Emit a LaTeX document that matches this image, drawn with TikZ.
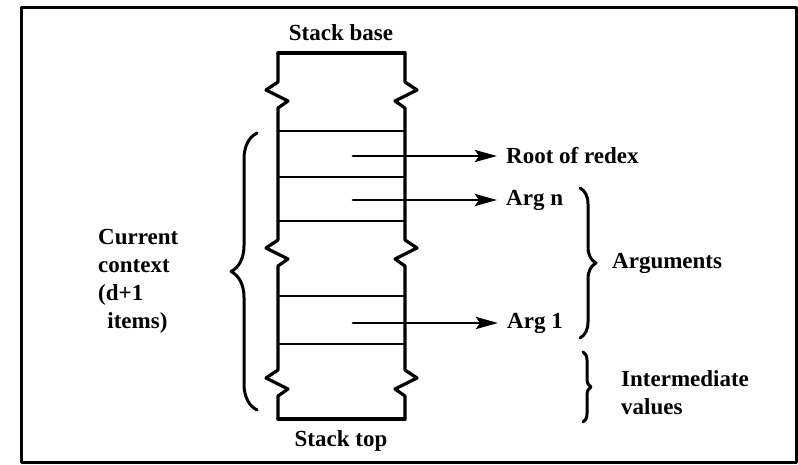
\documentclass[tikz,border=0pt]{standalone}
\usepackage{fontspec}
\setmainfont{Liberation Serif}
\usetikzlibrary{arrows.meta, decorations.pathreplacing}

\begin{document}
\begin{tikzpicture}[
  x=1pt, y=-1pt, line cap=round, line join=round,
  wall/.style={black, line width=3.2pt},
  slot/.style={black, line width=2.4pt},
  ptr/.style={black, line width=2.8pt, shorten >=9pt,
              -{Stealth[length=22pt, width=12pt, inset=4pt]}},
  brc/.style={black, line width=3pt, decorate, decoration={brace, amplitude=#1}},
  lbl/.style={font=\bfseries\fontsize{23}{28}\selectfont, text=black, align=left, inner sep=0pt},
]

\useasboundingbox (0,0) rectangle (798,465);
\draw[line width=3pt] (21,8) rectangle (796,462);

% Stack
\draw[wall] (278,53) -- (405,53);
\draw[wall] (278,419) -- (405,419);
\foreach \wx/\s in {278/1, 405/-1} {
  \draw[wall] (\wx,53)
    \foreach \zy in {82,240,370} {
      -- (\wx,\zy) -- ++({-12*\s},8) -- ++({22*\s},11) -- ++({-10*\s},7)
    }
    -- (\wx,419);
}
\foreach \sy in {131,177,221,296,344} {
  \draw[slot] (278,\sy) -- (405,\sy);
}
\node[lbl] (stkbase) at (341,33) {Stack base};
\node[lbl] (stktop) at (341,441) {Stack top};

% Pointers
\coordinate (rr) at (353,156);
\coordinate (an) at (353,200);
\coordinate (a1) at (353,323);
\node[lbl, anchor=west] (root) at (506,156) {Root of redex};
\node[lbl, anchor=west] (argn) at (506,200) {Arg n};
\node[lbl, anchor=west] (arg1) at (507,323) {Arg 1};
\draw[ptr] (rr) -- (root.west);
\draw[ptr] (an) -- (argn.west);
\draw[ptr] (a1) -- (arg1.west);

% Braces
\draw[brc=26pt] (257,410) -- (257,133);
\node[lbl, anchor=west] (ctx) at (98,281) {Current\\context\\(d+1\\\hspace*{0.4em}items)};
\draw[brc=16pt] (580,188) -- (580,338);
\node[lbl, anchor=west] (args) at (612,263) {Arguments};
\draw[brc=8pt] (583,352) -- (583,422);
\node[lbl, anchor=west] (inter) at (621,393) {Intermediate\\values};

\end{tikzpicture}
\end{document}
